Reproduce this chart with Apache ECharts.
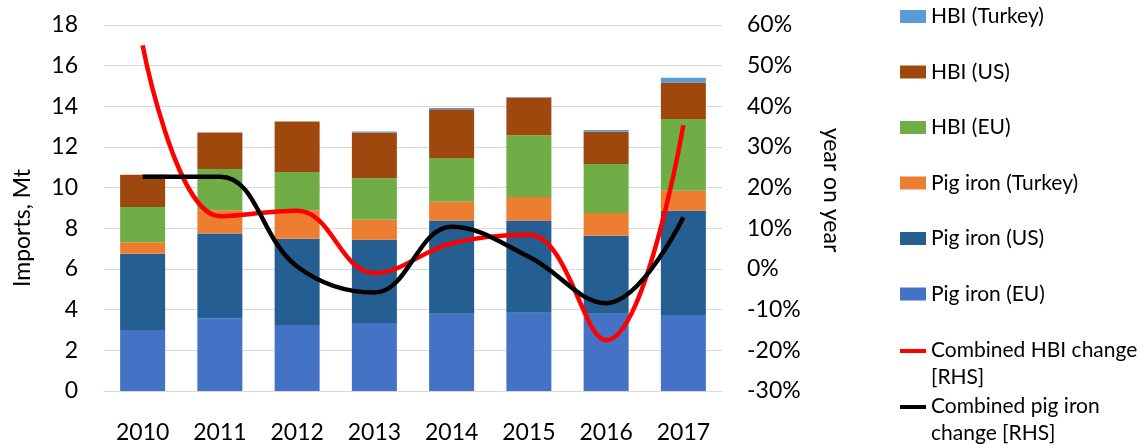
<!DOCTYPE html>
<html>
<head>
<meta charset="utf-8">
<style>
  html, body { margin: 0; padding: 0; background: #fff; }
  #chart { width: 1146px; height: 448px; }
</style>
<script src="https://cdn.jsdelivr.net/npm/echarts@6/dist/echarts.min.js"></script>
</head>
<body>
<div id="chart"></div>
<script>
// categories
const years = ['2010', '2011', '2012', '2013', '2014', '2015', '2016', '2017']

// imports, Mt (stacked from bottom)
const pigIronEU = [3.0, 3.58, 3.25, 3.34, 3.8, 3.85, 3.8, 3.74]
const pigIronUS = [3.75, 4.16, 4.24, 4.1, 4.58, 4.53, 3.84, 5.13]
const pigIronTurkey = [0.56, 1.15, 1.4, 0.99, 0.93, 1.16, 1.12, 0.98]
const hbiEU = [1.74, 2.03, 1.88, 2.03, 2.15, 3.04, 2.41, 3.53]
const hbiUS = [1.59, 1.79, 2.48, 2.25, 2.4, 1.85, 1.59, 1.79]
const hbiTurkey = [0, 0, 0, 0.05, 0.06, 0.03, 0.08, 0.23]

// year on year change, %
const hbiChange = [55, 13, 14.3, -1, 6.3, 8.4, -17.5, 35.4]
const pigIronChange = [22.7, 22.7, 0.6, -5.8, 10.4, 3, -8.4, 12.7]

const font = 'Lato'
const chart = echarts.init(document.getElementById('chart'))

function barSeries(name, data, color)
{
  return {
    name: name,
    type: 'bar',
    stack: 'imports',
    data: data,
    barWidth: 45,
    itemStyle: { color: color },
    animation: false
  }
}

function lineSeries(name, data, color)
{
  return {
    name: name,
    type: 'line',
    yAxisIndex: 1,
    data: data,
    smooth: 0.4,
    showSymbol: false,
    symbol: 'none',
    lineStyle: { color: color, width: 4.5 },
    itemStyle: { color: color },
    z: 5,
    animation: false
  }
}

// icon bar sits at the top so it lines up with the first text line
const lineIcon = 'path://M0,0L26,0L26,4L0,4Z M0,30'

const option = {
  textStyle: { fontFamily: font },
  legend: [
    {
      orient: 'vertical',
      left: 900,
      top: 6,
      padding: 0,
      itemWidth: 26,
      itemHeight: 13,
      itemGap: 34.5,
      icon: 'rect',
      textStyle: { fontFamily: font, fontSize: 21, color: '#000' },
      data: ['HBI (Turkey)', 'HBI (US)', 'HBI (EU)', 'Pig iron (Turkey)', 'Pig iron (US)', 'Pig iron (EU)']
    },
    {
      orient: 'vertical',
      left: 900,
      top: 337,
      padding: 0,
      itemWidth: 26,
      itemHeight: 30,
      icon: lineIcon,
      textStyle: { fontFamily: font, fontSize: 21, color: '#000', lineHeight: 27 },
      data: ['Combined HBI change\n[RHS]']
    },
    {
      orient: 'vertical',
      left: 900,
      top: 393,
      padding: 0,
      itemWidth: 26,
      itemHeight: 30,
      icon: lineIcon,
      textStyle: { fontFamily: font, fontSize: 21, color: '#000', lineHeight: 27 },
      data: ['Combined pig iron\nchange [RHS]']
    }
  ],
  grid: {
    left: 104,
    right: 424,
    top: 25,
    bottom: 57
  },
  xAxis: {
    type: 'category',
    data: years,
    axisLine: { lineStyle: { color: '#d9d9d9' } },
    axisTick: { show: false },
    axisLabel: { fontFamily: font, fontSize: 23, color: '#000', margin: 30 }
  },
  yAxis: [
    {
      type: 'value',
      min: 0,
      max: 18,
      interval: 2,
      name: 'Imports, Mt',
      nameLocation: 'middle',
      nameGap: 70,
      nameRotate: 90,
      nameTextStyle: { fontFamily: font, fontSize: 23, color: '#000', padding: [0, 40, 0, 0] },
      axisLine: { show: false },
      axisTick: { show: false },
      axisLabel: { fontFamily: font, fontSize: 23, color: '#000', margin: 26 },
      splitLine: { lineStyle: { color: '#d9d9d9' } }
    },
    {
      type: 'value',
      min: -30,
      max: 60,
      interval: 10,
      name: 'year on year',
      nameLocation: 'middle',
      nameGap: 98,
      nameRotate: -90,
      nameTextStyle: { fontFamily: font, fontSize: 23, color: '#000', padding: [0, 36, 0, 0] },
      axisLine: { show: false },
      axisTick: { show: false },
      axisLabel: { fontFamily: font, fontSize: 23, color: '#000', margin: 25, formatter: '{value}%' },
      splitLine: { show: false }
    }
  ],
  series: [
    barSeries('Pig iron (EU)', pigIronEU, '#4472C4'),
    barSeries('Pig iron (US)', pigIronUS, '#255E91'),
    barSeries('Pig iron (Turkey)', pigIronTurkey, '#ED7D31'),
    barSeries('HBI (EU)', hbiEU, '#70AD47'),
    barSeries('HBI (US)', hbiUS, '#9E480E'),
    barSeries('HBI (Turkey)', hbiTurkey, '#5B9BD5'),
    lineSeries('Combined HBI change\n[RHS]', hbiChange, '#FF0000'),
    lineSeries('Combined pig iron\nchange [RHS]', pigIronChange, '#000000')
  ]
}

chart.setOption(option)
</script>
</body>
</html>
